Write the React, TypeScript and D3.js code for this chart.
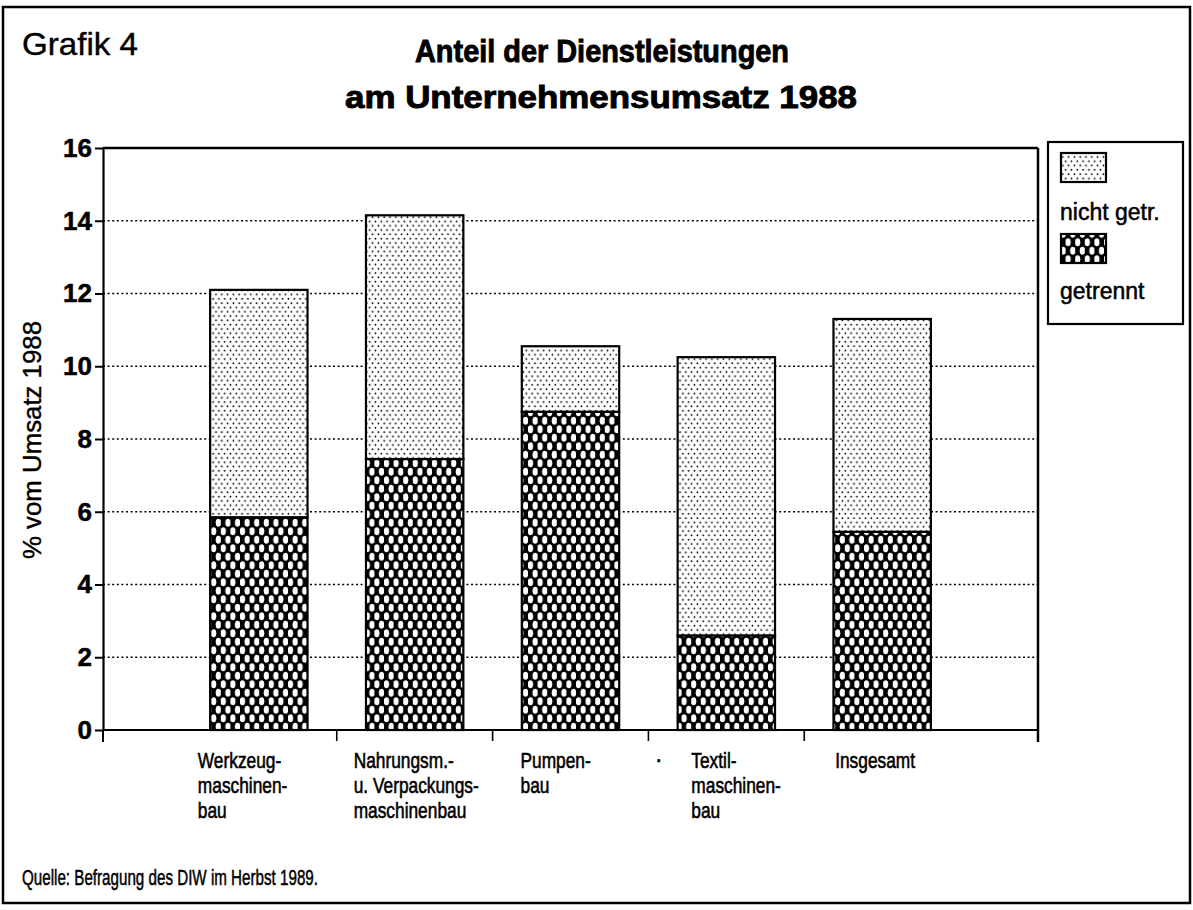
import React, { useEffect, useRef } from 'react';
import * as d3 from 'd3';

// Categories (wrapped the way the original prints them)
const categoryLines: string[][] = [
  ['Werkzeug-', 'maschinen-', 'bau'],
  ['Nahrungsm.-', 'u. Verpackungs-', 'maschinenbau'],
  ['Pumpen-', 'bau'],
  ['Textil-', 'maschinen-', 'bau'],
  ['Insgesamt'],
];
const categories = categoryLines.map(l => l.join(''));

// % vom Umsatz 1988
const getrennt = [5.85, 7.45, 8.75, 2.6, 5.45];
const nichtGetrennt = [6.25, 6.7, 1.8, 7.65, 5.85];

const yTicks = [0, 2, 4, 6, 8, 10, 12, 14, 16];
const seriesKeys = ['getrennt', 'nicht getr.'];
const legendOrder = ['nicht getr.', 'getrennt'];

// small per-label horizontal nudges, as the labels sit in the original
const labelShift = [-61, -61, -50, -35, -47];

const W = 1193;
const H = 910;
const sans = "'Liberation Sans', Arial, sans-serif";
const condense = 0.77; // the original uses a narrow face

const App: React.FC = () => {
  const svgRef = useRef<SVGSVGElement>(null);

  useEffect(() => {
    if (!svgRef.current) return;
    const svg = d3.select(svgRef.current);
    svg.selectAll('*').remove();

    const left = 103, right = 1038, top = 148, bottom = 730;

    // patterns
    const defs = svg.append('defs');
    const dots = defs.append('pattern')
      .attr('id', 'dots')
      .attr('patternUnits', 'userSpaceOnUse')
      .attr('width', 5.8)
      .attr('height', 8.6);
    dots.append('rect').attr('width', 5.8).attr('height', 8.6).attr('fill', '#fff');
    dots.append('circle').attr('cx', 1.4).attr('cy', 2.1).attr('r', 0.9).attr('fill', '#000');
    dots.append('circle').attr('cx', 4.3).attr('cy', 6.4).attr('r', 0.9).attr('fill', '#000');

    const hatch = defs.append('pattern')
      .attr('id', 'hatch')
      .attr('patternUnits', 'userSpaceOnUse')
      .attr('width', 9.6)
      .attr('height', 17);
    hatch.append('rect').attr('width', 9.6).attr('height', 17).attr('fill', '#000');
    hatch.append('ellipse').attr('cx', 2.4).attr('cy', 4.25).attr('rx', 2.7).attr('ry', 4.0).attr('fill', '#fff');
    hatch.append('ellipse').attr('cx', 7.2).attr('cy', 12.75).attr('rx', 2.7).attr('ry', 4.0).attr('fill', '#fff');

    const fills: Record<string, string> = {
      'getrennt': 'url(#hatch)',
      'nicht getr.': 'url(#dots)',
    };

    // outer frame
    svg.append('rect')
      .attr('x', 3).attr('y', 7)
      .attr('width', 1187).attr('height', 896)
      .attr('fill', 'none').attr('stroke', '#000').attr('stroke-width', 2.5);

    // headings
    svg.append('text')
      .attr('x', 22).attr('y', 55)
      .attr('textLength', 116).attr('lengthAdjust', 'spacingAndGlyphs')
      .attr('stroke', '#000').attr('stroke-width', 0.4)
      .style('font-family', sans).style('font-size', '32px')
      .text('Grafik 4');

    const title = svg.append('g')
      .attr('text-anchor', 'middle')
      .attr('stroke', '#000').attr('stroke-width', 0.9)
      .style('font-family', sans).style('font-size', '31px').style('font-weight', 'bold');
    title.append('text').attr('x', 602).attr('y', 62)
      .attr('textLength', 374).attr('lengthAdjust', 'spacingAndGlyphs')
      .text('Anteil der Dienstleistungen');
    title.append('text').attr('x', 601).attr('y', 108)
      .attr('textLength', 512).attr('lengthAdjust', 'spacingAndGlyphs')
      .text('am Unternehmensumsatz 1988');

    // scales
    const y = d3.scaleLinear().domain([0, 16]).range([bottom, top]);
    const x = d3.scalePoint<string>().domain(categories).range([left, right]).padding(1);
    const step = x.step();
    const barW = step * 0.625;

    // grid lines
    svg.append('g')
      .selectAll('line')
      .data(yTicks.filter(t => t > 0 && t < 16))
      .enter()
      .append('line')
      .attr('x1', left).attr('x2', right)
      .attr('y1', d => y(d)).attr('y2', d => y(d))
      .attr('stroke', '#000').attr('stroke-width', 1.6)
      .attr('stroke-dasharray', '2,2.6');

    // plot frame: top + right, bottom axis
    svg.append('line').attr('x1', left).attr('x2', right).attr('y1', y(16)).attr('y2', y(16))
      .attr('stroke', '#000').attr('stroke-width', 2.5);
    svg.append('line').attr('x1', right).attr('x2', right).attr('y1', y(16)).attr('y2', bottom + 12)
      .attr('stroke', '#000').attr('stroke-width', 2.5);
    svg.append('line').attr('x1', left).attr('x2', left).attr('y1', bottom).attr('y2', bottom + 12)
      .attr('stroke', '#000').attr('stroke-width', 2);

    // stacked bars
    const rows = categories.map((c, i) => ({ cat: c, 'getrennt': getrennt[i], 'nicht getr.': nichtGetrennt[i] }));
    const stack = d3.stack<any>().keys(seriesKeys);
    const layers = stack(rows);

    layers.forEach(layer => {
      svg.append('g')
        .selectAll('rect')
        .data(layer)
        .enter()
        .append('rect')
        .attr('x', d => (x(d.data.cat) as number) - barW / 2)
        .attr('width', barW)
        .attr('y', d => y(d[1]))
        .attr('height', d => y(d[0]) - y(d[1]))
        .attr('fill', fills[layer.key])
        .attr('stroke', '#000')
        .attr('stroke-width', 2.2);
    });

    // y axis
    const yAxis = svg.append('g')
      .attr('transform', `translate(${left},0)`)
      .call(d3.axisLeft(y).tickValues(yTicks).tickSize(8).tickSizeOuter(0).tickPadding(3));
    yAxis.select('.domain').attr('stroke-width', 2.2);
    yAxis.selectAll('.tick line').attr('stroke-width', 2);
    yAxis.selectAll('.tick text')
      .style('font-family', sans).style('font-size', '26px').style('font-weight', 'bold')
      .attr('fill', '#000').attr('stroke', '#000').attr('stroke-width', 0.5);

    svg.append('text')
      .attr('transform', `translate(41,${(top + bottom) / 2 + 1}) rotate(-90)`)
      .attr('text-anchor', 'middle')
      .attr('textLength', 238).attr('lengthAdjust', 'spacingAndGlyphs')
      .attr('stroke', '#000').attr('stroke-width', 0.4)
      .style('font-family', sans).style('font-size', '25px')
      .text('% vom Umsatz 1988');

    // x axis line + ticks between categories
    svg.append('line').attr('x1', left).attr('x2', right).attr('y1', bottom).attr('y2', bottom)
      .attr('stroke', '#000').attr('stroke-width', 2.2);
    const mids = categories.slice(1).map(c => (x(c) as number) - step / 2);
    svg.append('g')
      .selectAll('line')
      .data(mids)
      .enter()
      .append('line')
      .attr('x1', d => d).attr('x2', d => d)
      .attr('y1', bottom).attr('y2', bottom + 11)
      .attr('stroke', '#000').attr('stroke-width', 1.6);

    // category labels (condensed)
    const labels = svg.append('g')
      .attr('stroke', '#000').attr('stroke-width', 0.6)
      .style('font-family', sans).style('font-size', '22.5px');
    categoryLines.forEach((lines, i) => {
      const t = labels.append('text')
        .attr('transform', `translate(${(x(categories[i]) as number) + labelShift[i]},${bottom + 38}) scale(${condense},1)`);
      lines.forEach((ln, j) => {
        t.append('tspan')
          .attr('x', 0)
          .attr('y', j * 25)
          .text(ln);
      });
    });
    // stray dot from the printed original
    labels.append('text')
      .attr('x', 655).attr('y', bottom + 37)
      .text('·');

    // legend
    const lg = svg.append('g');
    lg.append('rect')
      .attr('x', 1048).attr('y', 142)
      .attr('width', 135).attr('height', 182)
      .attr('fill', '#fff').attr('stroke', '#000').attr('stroke-width', 2.2);
    legendOrder.forEach((k, i) => {
      lg.append('rect')
        .attr('x', 1061).attr('y', 153 + i * 81)
        .attr('width', 45).attr('height', 29)
        .attr('fill', fills[k]).attr('stroke', '#000').attr('stroke-width', 2.2);
      lg.append('text')
        .attr('x', 1060).attr('y', 220 + i * 79)
        .attr('stroke', '#000').attr('stroke-width', 0.5)
        .style('font-family', sans).style('font-size', '23px')
        .text(k);
    });

    // source
    svg.append('text')
      .attr('x', 22).attr('y', 885)
      .attr('textLength', 296).attr('lengthAdjust', 'spacingAndGlyphs')
      .attr('stroke', '#000').attr('stroke-width', 0.5)
      .style('font-family', sans).style('font-size', '22px')
      .text('Quelle: Befragung des DIW im Herbst 1989.');
  }, []);

  return (
    <svg
      ref={svgRef}
      width={W}
      height={H}
      style={{ position: 'absolute', left: 0, top: 0, display: 'block', background: '#fff' }}
    />
  );
};

export default App;
